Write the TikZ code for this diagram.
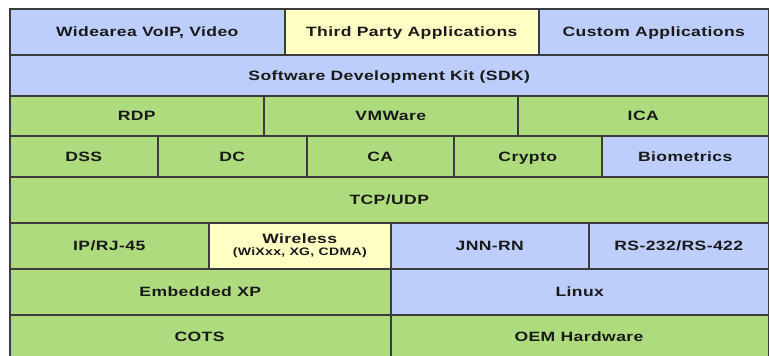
\documentclass[tikz,border=0pt]{standalone}
\usepackage{fontspec}
\newfontfamily\cellfont{Liberation Sans}[FakeStretch=1.3,LetterSpace=3]
\definecolor{bl}{RGB}{189,206,253}
\definecolor{gr}{RGB}{174,219,126}
\definecolor{ye}{RGB}{255,255,196}
\definecolor{edge}{RGB}{60,60,60}
\definecolor{ink}{RGB}{25,25,25}
\tikzset{
  cellbase/.style={draw=edge, line width=1.5pt, inner sep=0pt, anchor=north west,
    text=ink, font=\cellfont\bfseries\fontsize{13.5}{14}\selectfont, align=center},
  cell/.style={cellbase, text height=9.7pt, text depth=0pt},
  blue/.style={cell, fill=bl},
  green/.style={cell, fill=gr},
  yellow/.style={cell, fill=ye},
  label/.style={text=ink, font=\cellfont\bfseries\fontsize{13.5}{14}\selectfont,
    inner sep=0pt, text height=9.7pt, text depth=0pt},
}
\newcommand\cellat[7]{% style, name, x1, y1, x2, y2, text
  \node[#1, minimum width=#5pt-#3pt, minimum height=#6pt-#4pt] (#2) at (#3,#4) {#7};}
\begin{document}
\begin{tikzpicture}[x=1pt,y=-1pt]
\useasboundingbox (0,0) rectangle (769,356);
\clip (0,0) rectangle (769,356);
\fill[white] (0,0) rectangle (769,356);
% row 1
\cellat{blue}{wan}{9}{8}{284}{54}{Widearea VoIP, Video}
\cellat{yellow}{tpa}{284}{8}{538}{54}{Third Party Applications}
\cellat{blue}{cust}{538}{8}{768}{54}{Custom Applications}
% row 2
\cellat{blue}{sdk}{9}{54}{768}{95}{Software Development Kit (SDK)}
% row 3
\cellat{green}{rdp}{9}{95}{263}{135}{RDP}
\cellat{green}{vmw}{263}{95}{517}{135}{VMWare}
\cellat{green}{ica}{517}{95}{768}{135}{ICA}
% row 4
\cellat{green}{dss}{9}{135}{157}{176}{DSS}
\cellat{green}{dc}{157}{135}{306}{176}{DC}
\cellat{green}{ca}{306}{135}{453}{176}{CA}
\cellat{green}{cry}{453}{135}{601}{176}{Crypto}
\cellat{blue}{bio}{601}{135}{768}{176}{Biometrics}
% row 5
\cellat{green}{tcp}{9}{176}{768}{222}{TCP/UDP}
% row 6
\cellat{green}{ip}{9}{222}{208}{268}{IP/RJ-45}
\cellat{cellbase, fill=ye}{wls}{208}{222}{390}{268}{Wireless\\[-2pt]{\fontsize{10.8}{12}\selectfont(WiXxx, XG, CDMA)}}
\cellat{blue}{jnn}{390}{222}{588}{268}{JNN-RN}
\cellat{blue}{rs}{588}{222}{768}{268}{RS-232/RS-422}
% row 7
\cellat{green}{exp}{9}{268}{390}{314}{Embedded XP}
\cellat{blue}{lnx}{390}{268}{768}{314}{Linux}
% row 8 (cut off at the bottom)
\node[green, minimum width=381pt, minimum height=90pt] (cots) at (9,314) {};
\node[green, minimum width=378pt, minimum height=90pt] (oem) at (390,314) {};
\node[label] (cotst) at (199.5,337) {COTS};
\node[label] (oemt) at (579,337) {OEM Hardware};
\end{tikzpicture}
\end{document}
